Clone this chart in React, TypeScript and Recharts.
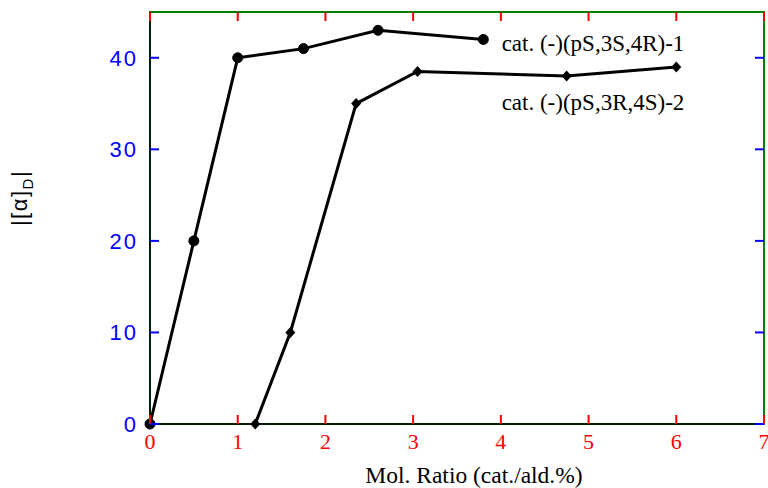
import { LineChart, Line, XAxis, YAxis, ReferenceArea } from "recharts"

// cat. (-)(pS,3S,4R)-1 — circles
const series1X = [0, 0.5, 1, 1.75, 2.6, 3.8]
const series1Y = [0, 20, 40, 41, 43, 42]
// cat. (-)(pS,3R,4S)-2 — diamonds
const series2X = [1.2, 1.6, 2.35, 3.05, 4.75, 6]
const series2Y = [0, 10, 35, 38.5, 38, 39]

const xTicks = [0, 1, 2, 3, 4, 5, 6, 7]
const yTicks = [0, 10, 20, 30, 40]

const series1Name = "cat. (-)(pS,3S,4R)-1"
const series2Name = "cat. (-)(pS,3R,4S)-2"

const data1 = series1X.map((x, i) => ({ x, y: series1Y[i] }))
const data2 = series2X.map((x, i) => ({ x, y: series2Y[i] }))

const SERIF = "'Liberation Serif', 'Times New Roman', serif"
const SANS = "'Liberation Sans', Arial, Helvetica, sans-serif"
const TICK = 9
const PLOT_TOP = 12
const PLOT_BOTTOM = 424
const PLOT_LEFT = 150
const PLOT_RIGHT = 764

const renderBottomTick = (p: any) => (
  <g key={`bt-${p.payload.value}`}>
    <line x1={p.x} x2={p.x} y1={PLOT_BOTTOM} y2={PLOT_BOTTOM - TICK} stroke="red" strokeWidth={2} />
    <line x1={p.x} x2={p.x} y1={PLOT_TOP} y2={PLOT_TOP + TICK} stroke="red" strokeWidth={2} />
    <text x={p.x} y={PLOT_BOTTOM + 25} textAnchor="middle" fontFamily={SERIF} fontSize={22} fill="red">
      {p.payload.value}
    </text>
    {p.index === 0 && (
      <text x={474} y={PLOT_BOTTOM + 59} textAnchor="middle" fontFamily={SERIF} fontSize={23.5} fill="#000">
        Mol. Ratio (cat./ald.%)
      </text>
    )}
  </g>
)

const renderLeftTick = (p: any) => (
  <g key={`lt-${p.payload.value}`}>
    <line x1={PLOT_LEFT} x2={PLOT_LEFT + TICK} y1={p.y} y2={p.y} stroke="blue" strokeWidth={2} />
    <line x1={PLOT_RIGHT} x2={PLOT_RIGHT - TICK} y1={p.y} y2={p.y} stroke="blue" strokeWidth={2} />
    <text x={PLOT_LEFT - 12} y={p.y + 8} textAnchor="end" fontFamily={SANS} fontSize={22}
      letterSpacing={2} fill="blue">
      {p.payload.value}
    </text>
    {p.index === 0 && (
      <text x={27} y={198} transform="rotate(-90, 27, 198)" textAnchor="middle" fontFamily={SANS}
        fontSize={22} letterSpacing={1.5} fill="#000">
        |[α]
        <tspan fontSize={15} dy={6}>D</tspan>
        <tspan dy={-6}>|</tspan>
      </text>
    )}
  </g>
)

const renderDiamond = (p: any) => (
  <g key={`d-${p.index}`}>
    <polygon
      points={`${p.cx},${p.cy - 5.5} ${p.cx + 5},${p.cy} ${p.cx},${p.cy + 5.5} ${p.cx - 5},${p.cy}`}
      fill="#000"
    />
    {p.index === 4 && (
      <>
        <text x={p.cx - 65} y={p.cy - 25} fontFamily={SERIF} fontSize={23} fill="#000">{series1Name}</text>
        <text x={p.cx - 65} y={p.cy + 34} fontFamily={SERIF} fontSize={23} fill="#000">{series2Name}</text>
      </>
    )}
  </g>
)

export default function App() {
  return (
    <div style={{ position: "absolute", left: 0, top: 0, background: "#fff" }}>
      <LineChart width={768} height={488} margin={{ top: 12, right: 4, left: 0, bottom: 0 }}>
        <XAxis
          dataKey="x"
          type="number"
          domain={[0, 7]}
          ticks={xTicks}
          height={64}
          tickLine={false}
          axisLine={{ stroke: "#000", strokeWidth: 1.5 }}
          tick={renderBottomTick}
        />
        <YAxis
          type="number"
          domain={[0, 45]}
          ticks={yTicks}
          width={150}
          tickLine={false}
          axisLine={{ stroke: "#000", strokeWidth: 1.5 }}
          tick={renderLeftTick}
        />
        <ReferenceArea x1={0} x2={7} y1={0} y2={45} fill="#fff" fillOpacity={0} stroke="green" strokeWidth={2} />
        <Line
          data={data1}
          dataKey="y"
          stroke="#000"
          strokeWidth={3}
          dot={{ r: 5, fill: "#000", stroke: "#000", strokeWidth: 1 }}
          isAnimationActive={false}
        />
        <Line
          data={data2}
          dataKey="y"
          stroke="#000"
          strokeWidth={3}
          dot={renderDiamond}
          isAnimationActive={false}
        />
      </LineChart>
    </div>
  )
}
